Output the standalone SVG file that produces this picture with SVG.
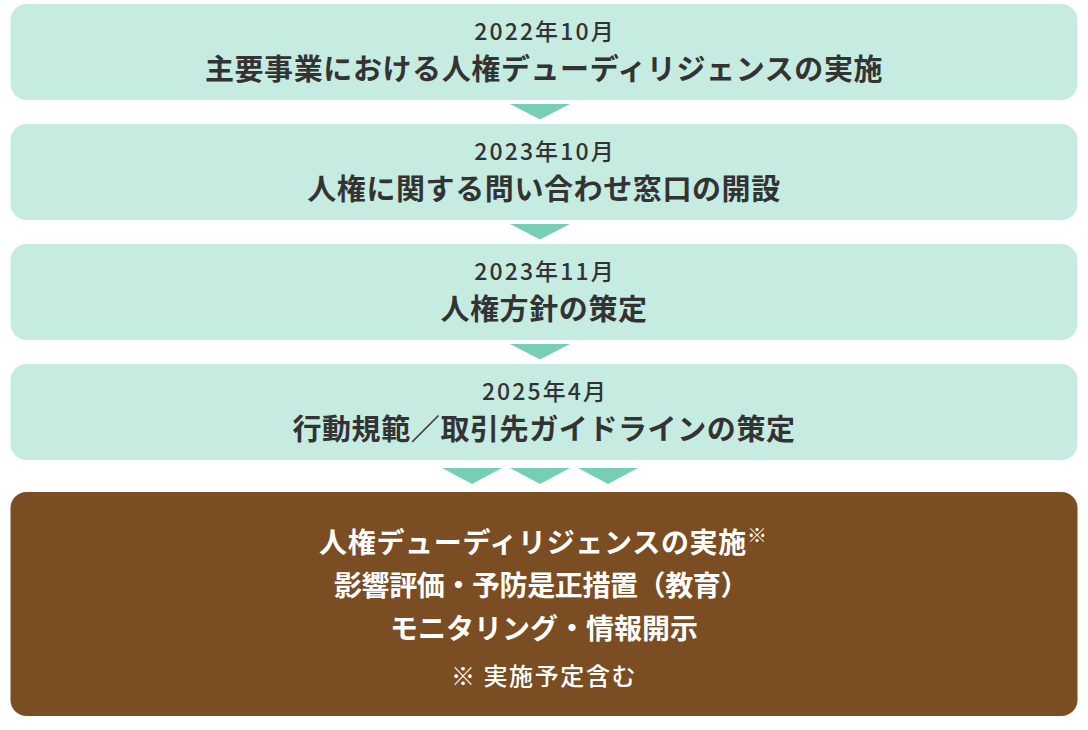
<svg xmlns="http://www.w3.org/2000/svg" width="1088" height="730" viewBox="0 0 1088 730">
<style>
.step{fill:#c6ebe0}
.goal{fill:#7a4d22}
.arrow{fill:#76cfb4}
text{font-family:"Noto Sans CJK JP","Noto Sans",sans-serif;text-anchor:middle}
.yr{font-size:23px;font-weight:500;fill:#333333;letter-spacing:2.1px}
.ttl{font-size:29px;font-weight:700;fill:#333333;letter-spacing:0.6px}
.wt{font-size:28px;font-weight:700;fill:#ffffff}
.w1{letter-spacing:0.7px}
.w2{letter-spacing:-0.4px}
.note{font-size:24px;font-weight:500;fill:#ffffff;letter-spacing:1.6px}
.sup{font-size:20px;font-weight:500;letter-spacing:0}
</style>
<rect width="1088" height="730" fill="#ffffff"/>
<g id="step1">
<rect class="step" x="10.5" y="4" width="1067" height="96" rx="16"/>
<text class="yr" x="545" y="39.5">2022年10月</text>
<text class="ttl" x="544" y="80">主要事業における人権デューディリジェンスの実施</text>
</g>
<g id="step2">
<rect class="step" x="10.5" y="124" width="1067" height="96" rx="16"/>
<text class="yr" x="545" y="159.5">2023年10月</text>
<text class="ttl" x="544" y="200">人権に関する問い合わせ窓口の開設</text>
</g>
<g id="step3">
<rect class="step" x="10.5" y="244" width="1067" height="96" rx="16"/>
<text class="yr" x="545" y="279.5">2023年11月</text>
<text class="ttl" x="544" y="320">人権方針の策定</text>
</g>
<g id="step4">
<rect class="step" x="10.5" y="364" width="1067" height="96" rx="16"/>
<text class="yr" x="545" y="399.5">2025年4月</text>
<text class="ttl" x="544" y="440">行動規範／取引先ガイドラインの策定</text>
</g>
<g id="goal">
<rect class="goal" x="10.5" y="492" width="1067" height="224" rx="16"/>
<text class="wt w1" x="543" y="553">人権デューディリジェンスの実施<tspan class="sup" dy="-10">※</tspan></text>
<text class="wt w2" x="541" y="596">影響評価・予防是正措置（教育）</text>
<text class="wt" x="544" y="639">モニタリング・情報開示</text>
<text class="note" x="544" y="685">※ 実施予定含む</text>
</g>
<g id="connectors">
<polygon class="arrow" points="510,104 570,104 540,119.5"/>
<polygon class="arrow" points="510,224 570,224 540,239.5"/>
<polygon class="arrow" points="510,344 570,344 540,359.5"/>
<polygon class="arrow" points="442,468 502,468 472,484"/>
<polygon class="arrow" points="510,468 570,468 540,484"/>
<polygon class="arrow" points="578,468 638,468 608,484"/>
</g>
</svg>
